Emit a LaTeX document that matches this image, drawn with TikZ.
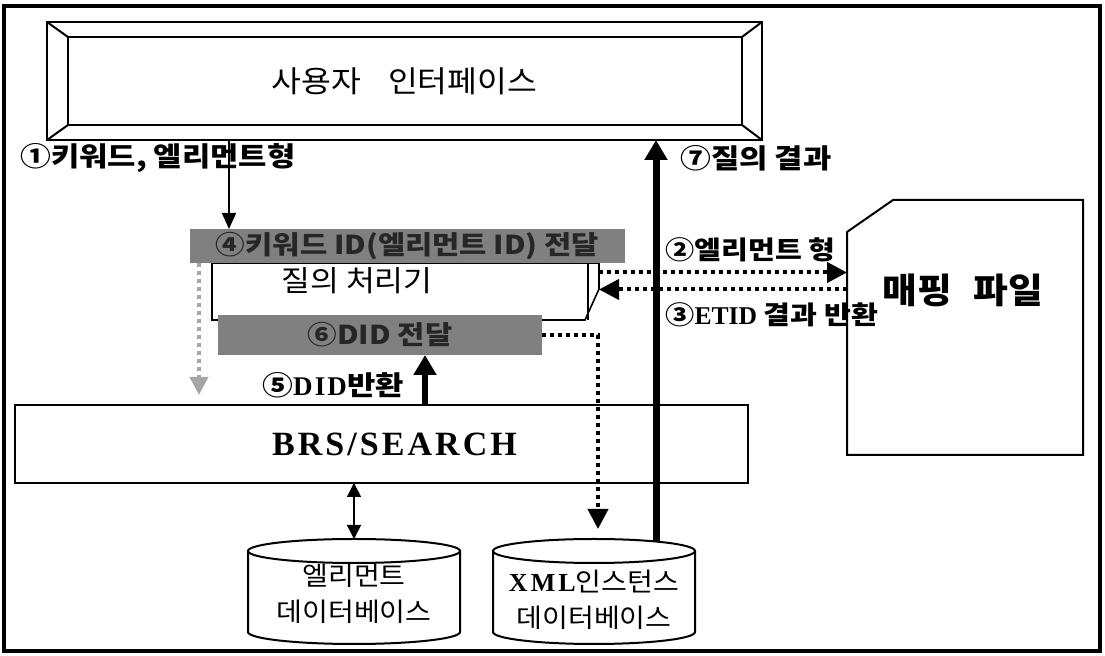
\documentclass[tikz,border=0pt]{standalone}
\usepackage{fontspec}
\setmainfont{Liberation Serif}
\newfontfamily\kr[FakeStretch=1.14]{Noto Sans CJK KR}
\newfontfamily\krm[FakeStretch=1.08]{Noto Sans CJK KR}
\usetikzlibrary{arrows.meta,calc}
\newcommand\lat[1]{{\rmfamily\bfseries #1}}
% cylinder round a named node, #2 = x radius
\newcommand\drum[2]{%
  \draw[line width=1pt] ($(#1.north)+(0,12)$) ellipse[x radius=#2,y radius=12];%
  \draw[line width=1pt] ($(#1.north west)+(0,12)$) -- ($(#1.south west)+(0,-12)$)
    arc[start angle=180,end angle=0,x radius=#2,y radius=12] -- ($(#1.north east)+(0,12)$);%
}

\begin{document}
\begin{tikzpicture}[x=0.5pt,y=-0.5pt,
    lbl/.style={font=\kr\bfseries\fontsize{13.5}{15}\selectfont,inner sep=0pt,anchor=west},
    hole/.style={inner sep=0pt,outer sep=0pt},
    band/.style={hole,fill=black!50,text=black!85,font=\kr\bfseries\fontsize{13}{15}\selectfont},
    dots/.style={line width=2pt,dash pattern=on 2pt off 2pt},
    tip/.style={-{Triangle[length=10pt,width=10pt]}},
    fat/.style={line width=3.5pt,-{Triangle[length=10pt,width=11pt]}},
    thin/.style={line width=0.8pt,-{Triangle[length=8pt,width=7pt]}}]
\useasboundingbox (0,0) rectangle (1105,656);
\draw[line width=1.6pt] (4,6) rectangle (1100,651);

% user interface
\node[hole,draw,line width=1pt,minimum width=357.5pt,minimum height=59pt,
  font=\krm\fontsize{15}{17}\selectfont] (ui) at (404.5,81) {사용자\hspace{0.9em}인터페이스};
\draw[line width=1pt] ($(ui.north west)+(21,15)$) rectangle ($(ui.south east)+(-20,-15)$);
\draw[line width=1pt] (ui.north west) -- ($(ui.north west)+(21,15)$)
  (ui.south west) -- ($(ui.south west)+(21,-15)$)
  (ui.north east) -- ($(ui.north east)+(-20,15)$)
  (ui.south east) -- ($(ui.south east)+(-20,-15)$);

% query processor
\node[hole,minimum width=193.5pt,minimum height=28.5pt] (qp) at (405.5,291.5) {};
\draw[line width=0.8pt] (qp.north west) -- (qp.north east) -- ($(qp.north east)+(0,26)$)
  -- ($(qp.south east)+(-14,0)$) -- (qp.south west) -- cycle;
\draw[line width=0.8pt] ($(qp.north east)+(-11,0)$) -- ($(qp.south east)+(-11,0)$);
\node[font=\krm\fontsize{14.5}{16}\selectfont,inner sep=0pt] (qptxt) at (357,281) {질의 처리기};
\node[band,minimum width=217.5pt,minimum height=17pt] (topb) at (407.5,246) {④키워드 ID(엘리먼트 ID) 전달};
\node[band,minimum width=162pt,minimum height=20pt] (low) at (380,335) {⑥DID 전달};

% mapping file
\node[hole,minimum width=118pt,minimum height=127.5pt] (map) at (965,327.5) {};
\draw[line width=1pt] (map.south west) -- ($(map.north west)+(0,32)$) -- ($(map.north west)+(46,0)$)
  -- (map.north east) -- (map.south east) -- cycle;
\node[font=\krm\bfseries\fontsize{17.5}{20}\selectfont,inner sep=0pt] (maptxt) at (963,290) {매핑\hspace{0.6em}파일};

% BRS/SEARCH
\node[hole,draw,line width=0.8pt,minimum width=366.5pt,minimum height=39pt,
  font=\rmfamily\bfseries\fontsize{17}{19}\selectfont\addfontfeature{LetterSpace=9}] (brs) at (381.5,444) {\hspace*{13pt}BRS/SEARCH};

% databases
\node[hole,minimum width=106pt,minimum height=52.5pt] (eldb) at (354,591.5) {};
\drum{eldb}{106}
\node[font=\krm\fontsize{13}{18}\selectfont,align=center,inner sep=0pt] (eltxt) at (354,594) {엘리먼트\\데이터베이스};
\node[hole,minimum width=101pt,minimum height=52.5pt] (xmldb) at (594,591.5) {};
\drum{xmldb}{101}
\node[font=\krm\fontsize{13}{18}\selectfont,align=center,inner sep=0pt] (xmltxt) at (594,600) {{\rmfamily\bfseries\addfontfeature{LetterSpace=12}XML}인스턴스\\데이터베이스};

% connectors
\path ([xshift=91pt]ui.south west) coordinate (k1);
\draw[thin] (k1) -- (k1 |- topb.north);
\path ([xshift=31pt,yshift=-1pt]xmldb.north) coordinate (q7);
\draw[fat] (q7) -- (q7 |- ui.south);
\path ([xshift=22.5pt]low.south) coordinate (d5);
\draw[fat,line width=3pt] (d5 |- brs.north) -- (d5);
\path ([xshift=4.5pt]topb.south west) coordinate (g4);
\path (g4 |- brs.north) coordinate (g4e);
\draw[dots,black!35,-{Triangle[length=9pt,width=9pt]}] (g4) -- ([yshift=5pt]g4e);
\draw[line width=0.8pt,{Triangle[length=7pt,width=7pt]}-{Triangle[length=7pt,width=7pt]}] (brs.south -| eldb.north) -- (eldb.north);
\path ([yshift=9.5pt]qp.east) coordinate (s2);
\draw[dots,tip] (s2) -- (s2 -| map.west);
\path ([yshift=1pt]qp.east) coordinate (s3);
\draw[dots,tip] (s3 -| map.west) -- (s3);
\draw[dots,tip] (low.east) -| ([xshift=2pt,yshift=5pt]xmldb.north);

% labels
\node[lbl] (l1) at (20,158) {①키워드, 엘리먼트형};
\node[lbl] (l7) at (680,158) {⑦질의 결과};
\node[lbl,font=\kr\bfseries\fontsize{12.8}{15}\selectfont] (l2) at (665,250) {②엘리먼트 형};
\node[lbl,font=\kr\bfseries\fontsize{12.8}{15}\selectfont] (l3) at (665,315) {③\lat{ETID} 결과 반환};
\node[lbl] (l5) at (262,385) {⑤{\rmfamily\bfseries\addfontfeature{LetterSpace=8}DID}반환};
\end{tikzpicture}
\end{document}
